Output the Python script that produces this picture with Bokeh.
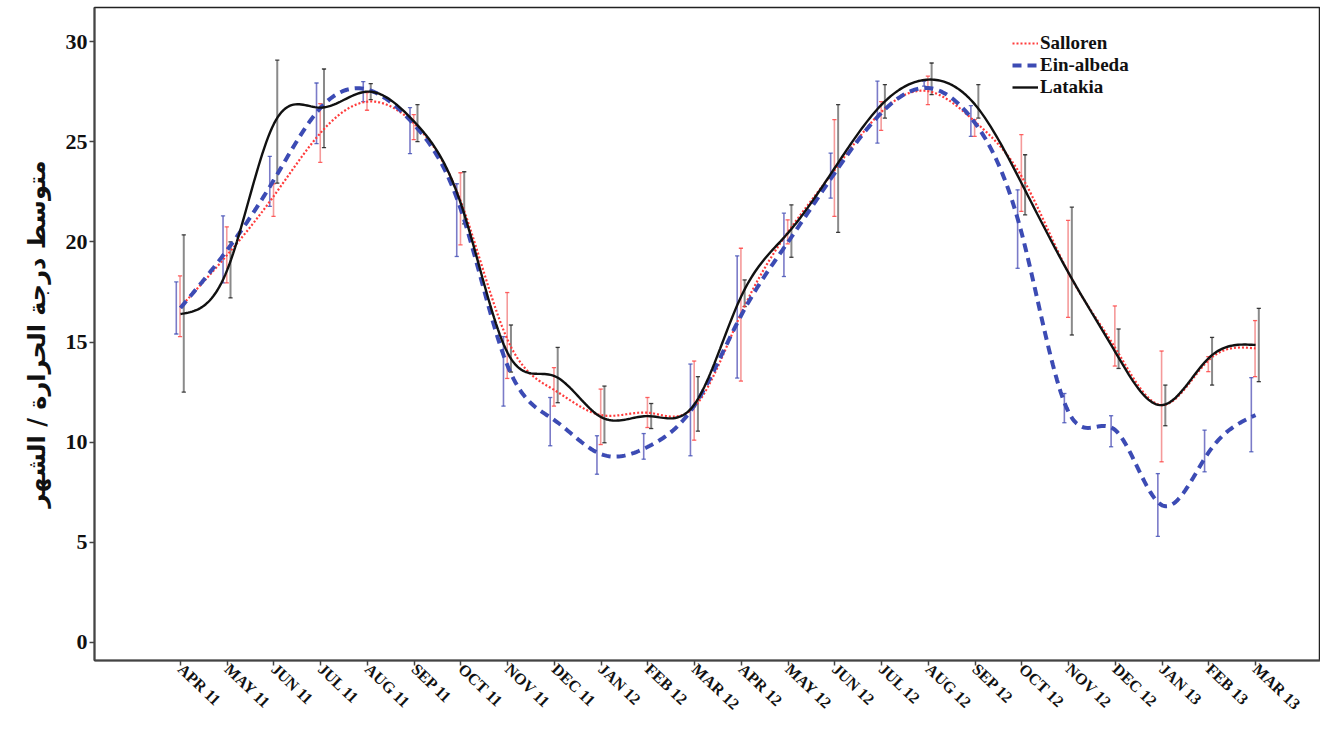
import numpy as np
from bokeh.plotting import figure
from bokeh.models import Range1d, FixedTicker, Legend, LegendItem
from bokeh.embed import file_html
from bokeh.resources import INLINE

months = ["APR 11", "MAY 11", "JUN 11", "JUL 11", "AUG 11", "SEP 11", "OCT 11",
          "NOV 11", "DEC 11", "JAN 12", "FEB 12", "MAR 12", "APR 12", "MAY 12",
          "JUN 12", "JUL 12", "AUG 12", "SEP 12", "OCT 12", "NOV 12", "DEC 12",
          "JAN 13", "FEB 13", "MAR 13"]

salloren = [16.75, 19.35, 22.3, 25.45, 27.0, 25.9, 22.0, 15.1, 12.6, 11.35, 11.47, 11.77,
            16.45, 20.5, 23.6, 26.5, 27.52, 26.0, 23.25, 18.45, 14.7, 11.85, 14.1, 14.68]
salloren_low = [15.27, 17.95, 21.27, 23.97, 26.57, 25.1, 19.85, 13.18, 11.8, 9.88, 10.73, 10.1,
                13.05, 19.9, 21.27, 25.57, 26.85, 25.27, 21.52, 16.23, 13.8, 9.02, 13.52, 13.27]
salloren_high = [18.3, 20.75, 22.9, 26.9, 27.45, 26.35, 23.45, 17.47, 13.72, 12.65, 12.23, 14.05,
                 19.68, 21.1, 26.1, 27.0, 28.27, 26.1, 25.35, 21.07, 16.8, 14.55, 14.27, 16.07]

einalbeda = [16.7, 19.6, 23.1, 26.7, 27.6, 25.85, 21.6, 13.8, 11.1, 9.4, 9.77, 11.85,
             16.35, 20.0, 23.45, 26.45, 27.68, 25.93, 20.4, 11.5, 10.6, 6.85, 9.5, 11.35]
einalbeda_low = [15.4, 17.95, 21.77, 24.9, 27.0, 24.4, 19.27, 11.8, 9.82, 8.4, 9.15, 9.32,
                 13.2, 18.27, 22.18, 24.93, 27.77, 25.27, 18.68, 10.97, 9.77, 5.3, 8.52, 9.52]
einalbeda_high = [18.0, 21.3, 24.27, 27.93, 28.0, 26.7, 22.9, 15.27, 12.23, 10.32, 10.43, 13.9,
                  19.3, 21.43, 24.43, 28.02, 28.02, 26.8, 22.6, 12.43, 11.32, 8.43, 10.6, 13.22]

latakia = [16.4, 18.6, 25.9, 26.7, 27.5, 26.0, 21.9, 14.45, 13.3, 11.25, 11.3, 11.9,
           17.3, 20.45, 23.7, 26.85, 28.1, 26.85, 22.9, 18.45, 14.5, 11.85, 14.2, 14.85]
latakia_low = [12.5, 17.2, 22.93, 24.7, 27.1, 25.0, 20.9, 13.5, 11.97, 9.97, 10.68, 10.55,
               16.77, 19.23, 20.47, 26.18, 27.35, 26.18, 21.35, 15.35, 13.68, 10.82, 12.85, 13.02]
latakia_high = [20.35, 20.0, 29.07, 28.63, 27.9, 26.85, 23.5, 15.85, 14.73, 12.8, 11.93, 13.27,
                18.1, 21.85, 26.85, 27.85, 28.93, 27.85, 24.35, 21.73, 15.65, 12.85, 15.23, 16.68]

y_ticks = [0, 5, 10, 15, 20, 25, 30]


def natural_spline(y, n=24):
    y = np.asarray(y, dtype=float)
    m = len(y)
    A = np.zeros((m, m))
    b = np.zeros(m)
    A[0, 0] = 1.0
    A[-1, -1] = 1.0
    for i in range(1, m - 1):
        A[i, i - 1] = 1.0
        A[i, i] = 4.0
        A[i, i + 1] = 1.0
        b[i] = 6.0 * (y[i + 1] - 2 * y[i] + y[i - 1])
    M = np.linalg.solve(A, b)
    xs, ys = [], []
    for i in range(m - 1):
        t = np.linspace(0, 1, n, endpoint=False)
        a = 1 - t
        seg = a * y[i] + t * y[i + 1] + ((a ** 3 - a) * M[i] + (t ** 3 - t) * M[i + 1]) / 6.0
        xs.extend(i + t)
        ys.extend(seg)
    xs.append(m - 1)
    ys.append(y[-1])
    return np.array(xs), np.array(ys)


x_idx = np.arange(len(months))

p = figure(width=1320, height=721, output_backend="svg", toolbar_location=None,
           x_range=Range1d(-1.84, 24.39), y_range=Range1d(-0.9, 31.7),
           min_border_left=94, min_border_right=0, min_border_top=7, min_border_bottom=0)
p.background_fill_color = "white"
p.border_fill_color = "white"
p.outline_line_color = "#222222"
p.outline_line_width = 1.5
p.xgrid.visible = False
p.ygrid.visible = False

series = [
    (einalbeda, einalbeda_low, einalbeda_high, -0.09, "#7b7bc8", "#3c4bb4"),
    (salloren, salloren_low, salloren_high, -0.01, "#f59a9a", "#ff3b3b"),
    (latakia, latakia_low, latakia_high, 0.07, "#8a8a8a", "#111111"),
]

# error bars
for vals, lo, hi, off, bcol, lcol in series:
    xb = x_idx + off
    p.segment(x0=xb, y0=lo, x1=xb, y1=hi, line_color=bcol, line_width=2 if bcol == "#8a8a8a" else 1.6)
    cw = 0.045
    p.segment(x0=xb - cw, y0=lo, x1=xb + cw, y1=lo, line_color=lcol, line_width=1.3, line_alpha=0.8)
    p.segment(x0=xb - cw, y0=hi, x1=xb + cw, y1=hi, line_color=lcol, line_width=1.3, line_alpha=0.8)

# smooth lines
sx, sy = natural_spline(salloren)
r_sal = p.line(sx, sy, line_color="#ff3b3b", line_width=2.2, line_dash="2 2")
ex, ey = natural_spline(einalbeda)
r_ein = p.line(ex, ey, line_color="#3c4bb4", line_width=4, line_dash="9 6")
lx, ly = natural_spline(latakia)
r_lat = p.line(lx, ly, line_color="#111111", line_width=2.4)

# axes
p.xaxis.ticker = FixedTicker(ticks=list(x_idx))
p.xaxis.major_label_overrides = {int(i): m for i, m in enumerate(months)}
p.xaxis.major_label_orientation = -0.76
p.xaxis.major_label_standoff = 1
p.yaxis.ticker = FixedTicker(ticks=y_ticks)
p.yaxis.major_label_standoff = 2
for ax in (p.xaxis[0], p.yaxis[0]):
    ax.axis_line_color = "#444444"
    ax.axis_line_width = 2
    ax.major_tick_line_color = "#444444"
    ax.major_tick_line_width = 1.5
    ax.major_tick_out = 5
    ax.major_tick_in = 0
    ax.minor_tick_line_color = None
    ax.major_label_text_font = "Liberation Serif"
    ax.major_label_text_font_style = "bold"
    ax.major_label_text_color = "#111111"
p.yaxis.major_label_text_font_size = "22px"
p.xaxis.major_label_text_font_size = "16px"
p.yaxis.axis_label = "متوسط درجة الحرارة / الشهر"
p.yaxis.axis_label_text_font = "DejaVu Sans"
p.yaxis.axis_label_text_font_style = "bold"
p.yaxis.axis_label_text_font_size = "24px"
p.yaxis.axis_label_text_color = "#111111"
p.yaxis.axis_label_standoff = 12

legend = Legend(items=[LegendItem(label="Salloren", renderers=[r_sal]),
                       LegendItem(label="Ein-albeda", renderers=[r_ein]),
                       LegendItem(label="Latakia", renderers=[r_lat])],
                location=(918, 562))
legend.margin = 0
legend.border_line_color = None
legend.background_fill_alpha = 0
legend.label_text_font = "Liberation Serif"
legend.label_text_font_style = "bold"
legend.label_text_font_size = "19px"
legend.label_text_color = "#111111"
legend.glyph_width = 26
legend.glyph_height = 20
legend.label_standoff = 2
legend.spacing = 0
legend.padding = 0
legend.label_height = 20
p.add_layout(legend, "center")

open("out.html", "w").write(file_html(p, INLINE))
